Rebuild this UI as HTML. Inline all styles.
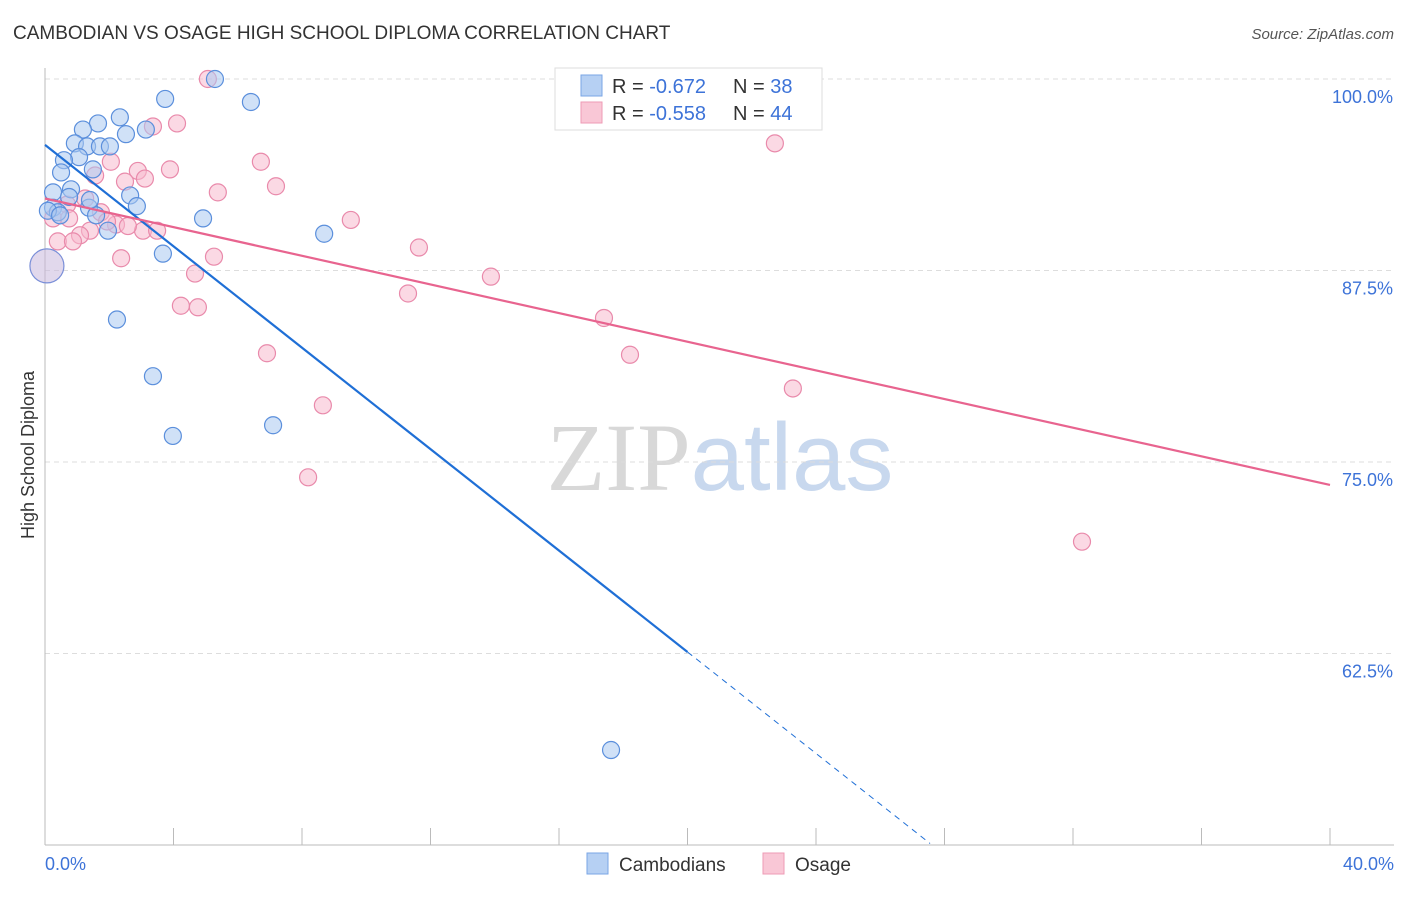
<!DOCTYPE html>
<html><head><meta charset="utf-8">
<style>
body{margin:0;background:#fff;font-family:"Liberation Sans",sans-serif;}
svg text{font-family:"Liberation Sans",sans-serif;}
</style></head>
<body>
<svg id="chart" width="1406" height="892" viewBox="0 0 1406 892" xmlns="http://www.w3.org/2000/svg">
<text x="13" y="39" font-size="19" fill="#333">CAMBODIAN VS OSAGE HIGH SCHOOL DIPLOMA CORRELATION CHART</text>
<text x="1394" y="39" font-size="15" fill="#555" text-anchor="end" font-style="italic">Source: ZipAtlas.com</text>
<text x="720" y="490" font-size="96" text-anchor="middle"><tspan fill="#d8d8d8" font-family="Liberation Serif">ZIP</tspan><tspan fill="#c8d8ee">atlas</tspan></text>
<text transform="translate(34,455) rotate(-90)" font-size="18" fill="#333" text-anchor="middle">High School Diploma</text>
<g id="grid"></g>
<g id="axes"></g>
<g id="points"></g>
<g id="lines"></g>
<g>
<rect x="555" y="68" width="267" height="62" fill="#fff" stroke="#ddd"/>
<rect x="581" y="75" width="21" height="21" fill="#b6d0f3" stroke="#7aa6e6"/>
<text x="612" y="93" font-size="20" fill="#333">R = <tspan fill="#3d73d8">-0.672</tspan></text>
<text x="733" y="93" font-size="20" fill="#333">N = <tspan fill="#3d73d8">38</tspan></text>
<rect x="581" y="102" width="21" height="21" fill="#f9c7d6" stroke="#ee9bb5"/>
<text x="612" y="120" font-size="20" fill="#333">R = <tspan fill="#3d73d8">-0.558</tspan></text>
<text x="733" y="120" font-size="20" fill="#333">N = <tspan fill="#3d73d8">44</tspan></text>
</g>
<g>
<rect x="587" y="853" width="21" height="21" fill="#b6d0f3" stroke="#7aa6e6"/>
<text x="619" y="871" font-size="19" fill="#333">Cambodians</text>
<rect x="763" y="853" width="21" height="21" fill="#f9c7d6" stroke="#ee9bb5"/>
<text x="795" y="871" font-size="19" fill="#333">Osage</text>
</g>
</svg>
<script>
const yTicks=[100,87.5,75,62.5];
const yTickLabels=["100.0%","87.5%","75.0%","62.5%"];
const xTickCount=10;
const xLabels=["0.0%","40.0%"];
const blueX=[5.29,3.74,6.41,2.33,1.65,3.14,2.52,1.18,0.93,1.31,1.71,2.02,1.06,0.59,0.50,1.49,0.25,0.81,0.75,2.65,1.37,2.86,0.25,0.40,1.59,4.92,1.96,8.69,3.67,2.24,3.36,3.98,7.10,17.62,0.09,0.47,1.4];
const blueY=[100,98.7,98.5,97.5,97.1,96.7,96.4,96.7,95.8,95.6,95.6,95.6,94.9,94.7,93.9,94.1,92.6,92.8,92.3,92.4,91.6,91.7,91.6,91.3,91.1,90.9,90.1,89.9,88.6,84.3,80.6,76.7,77.4,56.2,91.4,91.1,92.1];
const pinkX=[5.07,3.36,4.11,2.05,6.72,22.72,3.89,2.89,1.56,2.49,3.11,7.19,5.38,1.25,0.69,1.74,0.25,0.75,2.21,1.40,1.09,3.05,3.49,9.52,0.40,0.87,11.64,2.37,5.26,4.67,13.88,4.23,4.76,11.30,17.40,6.91,18.21,23.28,8.65,8.19,32.28,2.58,1.93];
const pinkY=[100,96.9,97.1,94.6,94.6,95.8,94.1,94.0,93.7,93.3,93.5,93.0,92.6,92.2,91.8,91.3,90.9,90.9,90.5,90.1,89.8,90.1,90.1,90.8,89.4,89.4,89.0,88.3,88.4,87.3,87.1,85.2,85.1,86.0,84.4,82.1,82.0,79.8,78.7,74.0,69.8,90.4,90.7];
const bigX=[0.06],bigY=[87.8];
const blueLine=[[0,95.7],[20,62.6]];
const blueDash=[[20,62.6],[27.55,50.1]];
const pinkLine=[[0,92.2],[40,73.5]];

const NS="http://www.w3.org/2000/svg";
const X=v=>45+v/40*1285;
const Y=v=>79+(100-v)/12.5*191.5;
function mk(tag,attrs,parent){const e=document.createElementNS(NS,tag);for(const k in attrs)e.setAttribute(k,attrs[k]);document.getElementById(parent).appendChild(e);return e;}

yTicks.forEach((t,i)=>{
 const l=mk('line',{x1:45,x2:1394,y1:Y(t),y2:Y(t),stroke:'#ddd','stroke-dasharray':'5,4'},'grid');
 
 
 const tx=mk('text',{x:1393,y:Y(t)+24,'font-size':18,fill:'#3d73d8','text-anchor':'end'},'grid');
 tx.textContent=yTickLabels[i];
 
 
});
let a=mk('line',{x1:45,x2:45,y1:68,y2:845,stroke:'#bbb'},'axes');


a=mk('line',{x1:45,x2:1394,y1:845,y2:845,stroke:'#bbb'},'axes');


for(let i=1;i<=xTickCount;i++){
 const t=mk('line',{x1:X(i*4),x2:X(i*4),y1:828,y2:845,stroke:'#bbb'},'axes');
 
 
}
let xl=mk('text',{x:45,y:870,'font-size':18,fill:'#3d73d8'},'axes');xl.textContent=xLabels[0];


xl=mk('text',{x:1394,y:870,'font-size':18,fill:'#3d73d8','text-anchor':'end'},'axes');xl.textContent=xLabels[1];



function pts(xs,ys,fill,stroke,name,r){
 xs.forEach((x,i)=>{
  const c=mk('circle',{cx:X(x),cy:Y(ys[i]),r:r,fill:fill,'fill-opacity':0.55,stroke:stroke,'stroke-width':1.2},'points');
  
  
 });
}
pts(pinkX,pinkY,'#f7b9cd','#e98aab','osage-point',8.5);
pts(blueX,blueY,'#a9c8f0','#5b8fdc','cambodian-point',8.5);
pts(bigX,bigY,'#c8b8dc','#7a8fd8','cambodian-point-large',17);

function ln(p,color,dash,name){
 const l=mk('line',{x1:X(p[0][0]),y1:Y(p[0][1]),x2:X(p[1][0]),y2:Y(p[1][1]),stroke:color,'stroke-width':dash?1:2.2},'lines');
 if(dash)l.setAttribute('stroke-dasharray','6,5');
 
 
}
ln(blueLine,'#1f6fd6',false,'cambodian-trend-line');
ln(blueDash,'#1f6fd6',true,'cambodian-trend-extension');
ln(pinkLine,'#e8648f',false,'osage-trend-line');
</script>
</body></html>
